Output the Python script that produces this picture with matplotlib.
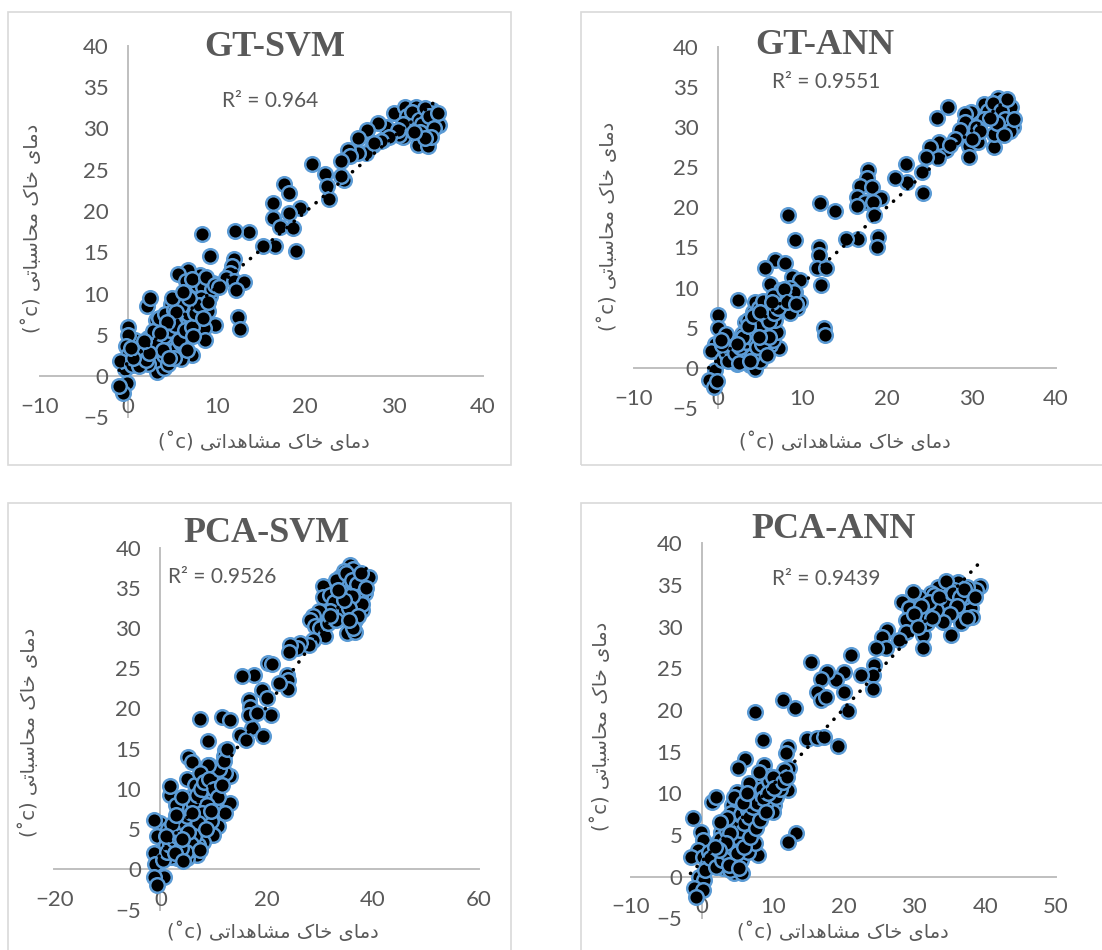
import matplotlib
matplotlib.use('Agg')
import matplotlib.pyplot as plt
from matplotlib.patches import Rectangle
import numpy as np

gt_svm_obs = [30.0, 31.2, 32.1, 32.7, 33.8, 34.3, 34.7, 35.1, 32.5, 33.0, 29.9, 31.0, 29.1, 28.2, 27.0,
              27.6, 26.9, 25.9, 25.9, 24.8, 25.0, 24.0, 24.4, 24.0, 20.8, 22.2, 22.4, 22.7, 19.4, 18.2,
              17.6, 18.2, 16.4, 16.4, 17.2, 18.6, 18.9, 16.6, 15.2, 13.7, 12.1, 8.3, 9.2, 11.9, 11.7,
              11.5, 11.1, 11.9, 13.1, 12.2, 12.4, 12.6, 9.6, 8.8, 8.1, 6.8, 5.6, 7.4, 6.1, 9.3,
              7.8, 9.0, 9.8, 8.6, 8.7, 7.1, 7.2, 6.0, 5.1, 4.8, 4.0, 4.8, 3.1, 2.3, 2.1,
              2.5, 3.1, 3.3, 4.0, 4.8, 1.6, 0.8, 0.0, 0.0, -0.2, 0.0, -0.3, -0.1, -0.6, -1.0,
              -0.9, 0.4, 2.0, 2.5, 3.0, 3.5, 3.8, 4.2, 4.5, 5.0, 5.5, 5.8, 6.2, 6.5, 3.2,
              4.0, 4.8, 5.5, 6.0, 2.8, 3.5, 4.2, 5.2, 6.8, 7.5, 7.0, 6.5, 1.5, 1.0, 2.2,
              4.5, 5.2, 7.8, 8.5, 9.5, 8.2, 6.0, 33.5, 34.8, 31.8, 30.6, 28.8]
gt_svm_pred = [31.8, 32.6, 30.2, 28.0, 27.9, 32.2, 31.0, 30.4, 32.6, 31.5, 29.4, 29.0, 30.2, 30.6, 29.8,
               28.0, 27.0, 28.8, 27.0, 27.4, 26.6, 26.1, 23.8, 24.2, 25.7, 24.5, 23.0, 21.5, 20.3, 19.7,
               23.2, 22.2, 20.9, 19.1, 18.0, 17.9, 15.2, 15.8, 15.8, 17.4, 17.6, 17.2, 14.5, 14.2, 13.3,
               12.5, 11.9, 11.5, 11.4, 10.4, 7.2, 5.7, 11.3, 11.9, 12.2, 12.8, 12.4, 10.1, 9.1, 9.7,
               8.3, 7.9, 6.2, 5.8, 4.4, 6.8, 2.6, 2.1, 3.6, 5.2, 6.8, 8.7, 6.8, 4.6, 8.5,
               9.5, 2.4, 0.5, 1.0, 3.6, 1.8, 4.4, 6.0, 5.0, 3.6, 2.6, 0.8, -0.8, -2.0, -1.2,
               1.8, 1.4, 3.5, 4.2, 4.8, 3.0, 5.5, 6.0, 4.0, 6.5, 7.0, 5.0, 6.0, 4.5, 2.0,
               2.5, 3.0, 3.5, 4.0, 5.5, 7.0, 7.5, 8.0, 7.5, 9.0, 10.5, 11.5, 2.5, 3.0, 1.5,
               1.5, 2.2, 11.0, 10.8, 10.5, 9.5, 8.5, 31.2, 31.8, 30.8, 29.2, 28.6]
# denser parts of the clouds
gt_svm_obs2 = [31.5, 32.0, 32.8, 33.2, 33.5, 34.0, 34.5, 35.0, 33.0, 31.0, 30.5, 29.5, 28.5, 27.8, 34.2,
               33.5, 32.3, 1.2, 2.0, 2.6, 3.4, 4.1, 4.7, 5.3, 3.0, 3.9, 4.6, 5.7, 6.4, 7.2,
               7.6, 8.0, 6.9, 5.4, 4.4, 3.6, 2.4, 1.8, 0.5, 0.3, 6.6, 7.3, 8.4, 9.0, 5.0,
               6.2, 7.2, 8.8, 9.8, 10.3]
gt_svm_pred2 = [31.5, 32.0, 31.0, 30.5, 32.5, 31.5, 30.0, 31.8, 29.5, 30.5, 29.8, 29.0, 28.5, 28.2, 29.0,
                28.8, 29.5, 1.2, 2.0, 3.0, 4.0, 4.8, 5.6, 6.2, 3.8, 3.2, 2.2, 4.4, 5.6, 6.0,
                7.6, 8.6, 9.4, 7.8, 6.6, 5.2, 2.8, 4.2, 2.2, 3.4, 3.2, 4.8, 7.0, 9.0, 9.5,
                10.2, 11.8, 12.0, 11.0, 10.8]

gt_ann_obs = [33.1, 33.9, 34.7, 34.9, 32.7, 32.7, 31.5, 29.9, 29.2, 29.2, 28.6, 29.7, 29.7, 30.5, 27.2,
              25.9, 27.0, 26.2, 25.1, 26.0, 24.6, 24.2, 24.3, 22.3, 22.4, 20.9, 17.8, 17.6, 16.8, 18.2,
              16.5, 17.4, 16.4, 19.3, 18.3, 18.5, 18.9, 18.8, 16.6, 15.1, 13.8, 12.1, 8.3, 9.1, 11.9,
              11.9, 11.7, 12.8, 12.2, 12.5, 12.7, 6.8, 5.6, 7.9, 8.7, 6.2, 7.5, 9.7, 9.1, 9.3,
              9.7, 8.5, 7.2, 6.0, 6.2, 7.2, 6.2, 4.6, 4.2, 4.4, 3.2, 2.4, 2.8, 4.0, 3.8,
              4.4, 3.0, 1.7, 0.9, 0.0, 0.0, 0.0, -0.3, -0.8, -0.3, -1.1, -0.5, -0.1, 0.5, 1.5,
              2.0, 2.5, 3.0, 3.5, 3.8, 4.2, 4.5, 5.0, 5.5, 5.8, 6.2, 3.2, 4.8, 5.5, 6.5,
              7.0, 6.8, 4.8, 5.3, 3.5, 2.8, 7.5, 8.0, 8.5, 9.0, 6.5, 1.0, 0.5, 2.2, 5.0,
              33.5, 31.0, 34.0, 30.8]
gt_ann_pred = [33.7, 33.3, 32.5, 30.0, 27.5, 29.2, 32.9, 31.9, 31.7, 30.6, 29.6, 27.6, 26.3, 29.0, 32.5,
               31.2, 27.2, 28.1, 27.5, 26.1, 26.3, 24.4, 21.8, 25.4, 23.2, 23.6, 24.6, 23.6, 22.7, 22.5,
               21.3, 20.7, 20.2, 21.2, 20.7, 19.0, 16.3, 15.0, 16.0, 16.0, 19.6, 20.5, 19.1, 15.9, 15.1,
               14.0, 12.4, 12.4, 10.3, 4.9, 4.1, 13.4, 12.4, 13.0, 11.3, 10.4, 9.7, 10.9, 9.5, 7.4,
               8.2, 6.8, 8.2, 7.2, 5.1, 2.4, 2.8, 4.9, 7.0, 8.2, 5.7, 8.5, 3.7, 2.6, 0.3,
               -0.1, 0.7, 1.4, 3.9, 6.6, 4.9, 2.4, 3.0, 2.1, -0.3, -1.5, -2.4, -1.7, 1.0, 2.5,
               3.5, 1.5, 2.5, 3.5, 4.5, 5.5, 3.2, 4.0, 5.0, 6.2, 7.0, 1.2, 1.8, 2.5, 3.5,
               4.5, 6.0, 7.5, 8.3, 6.0, 4.2, 8.0, 9.0, 10.0, 9.5, 9.0, 1.8, 2.8, 0.5, 0.8,
               31.8, 30.5, 30.8, 28.2]
gt_ann_obs2 = [32.0, 32.5, 33.5, 34.0, 34.5, 35.0, 33.0, 31.5, 30.5, 31.0, 33.8, 34.2, 32.2, 30.0, 28.0,
               27.5, 1.2, 2.0, 2.6, 3.3, 3.9, 4.4, 5.1, 5.6, 6.0, 6.6, 7.1, 4.0, 4.6, 5.2,
               6.0, 3.0, 3.6, 4.2, 5.0, 6.4, 7.8, 8.2, 9.2, 2.5, 3.8, 4.8, 5.8, 1.0, 0.4,
               2.2]
gt_ann_pred2 = [32.0, 33.0, 32.0, 31.0, 29.5, 31.0, 30.5, 31.0, 30.0, 29.5, 29.0, 33.5, 31.2, 28.5, 28.5,
                27.8, 0.8, 1.8, 2.6, 3.2, 3.8, 4.6, 5.4, 6.6, 5.8, 6.8, 7.4, 1.5, 2.6, 3.0,
                3.8, 3.8, 5.2, 6.4, 7.0, 8.2, 9.8, 8.2, 8.0, 0.6, 0.8, 3.8, 1.6, 4.2, 3.5,
                3.0]

pca_svm_obs = [35.7, 36.3, 39.2, 34.5, 33.8, 34.8, 36.3, 38.5, 36.7, 37.9, 36.7, 35.1, 36.7, 30.6, 30.6,
               31.9, 32.6, 34.2, 31.9, 29.8, 28.8, 28.2, 29.1, 30.1, 31.0, 31.6, 28.8, 27.9, 26.3, 25.7,
               24.4, 24.3, 23.8, 24.1, 24.1, 22.4, 20.3, 21.0, 19.1, 20.1, 20.8, 17.6, 15.3, 16.6, 16.9,
               16.6, 18.2, 17.2, 19.3, 15.0, 16.1, 7.5, 11.6, 13.1, 8.9, 12.2, 12.0, 11.6, 13.1, 12.2,
               9.2, 5.1, 5.9, 5.0, 7.8, 6.5, 9.9, 8.4, 13.1, 12.2, 9.9, 10.9, 9.9, 8.1, 6.8,
               5.0, 5.0, 3.1, 4.0, 4.0, 1.8, 1.8, 2.1, 3.4, -0.1, -1.3, -0.7, 0.6, -1.3, -1.0,
               0.6, -1.3, -0.7, 1.5, 1.0, 2.0, 2.5, 3.0, 3.5, 4.0, 4.5, 5.0, 5.5, 6.0, 6.5,
               7.0, 7.5, 8.0, 8.5, 9.0, 9.5, 10.0, 10.5, 11.0, 6.0, 7.0, 3.5, 2.0, 5.5, 4.5,
               8.0, 9.0, 12.0, 12.5, 1.5, 3.0, 6.5, 7.5, 37.0, 35.5, 33.0]
pca_svm_pred = [37.8, 37.3, 36.4, 37.1, 36.4, 35.6, 35.6, 34.4, 33.1, 32.3, 31.0, 29.4, 29.5, 35.2, 33.9,
                34.1, 33.3, 31.9, 32.1, 32.1, 31.5, 31.0, 30.2, 30.0, 29.0, 30.6, 28.5, 27.9, 28.1, 27.5,
                27.9, 27.0, 24.2, 23.6, 22.4, 23.2, 25.7, 25.5, 22.3, 21.3, 19.2, 24.2, 24.0, 21.1, 20.2,
                19.2, 19.4, 17.6, 16.6, 16.7, 16.1, 18.7, 18.9, 18.6, 15.9, 14.9, 14.1, 12.8, 11.6, 12.0,
                13.0, 14.0, 13.4, 11.2, 11.7, 9.5, 10.4, 9.0, 8.3, 7.0, 8.0, 5.4, 4.3, 3.4, 1.8,
                3.9, 1.4, 1.4, 6.1, 7.6, 9.3, 10.3, 5.5, 3.2, 5.8, 6.1, 4.1, 2.6, 2.0, 0.7,
                -0.9, -0.9, -1.9, 1.6, 3.0, 4.0, 2.5, 5.0, 6.5, 4.5, 3.0, 5.5, 7.0, 4.5, 6.0,
                8.0, 5.0, 6.5, 9.5, 7.5, 6.0, 9.0, 11.0, 12.5, 2.5, 3.0, 1.5, 1.5, 9.0, 8.0,
                11.5, 13.0, 13.5, 15.0, 5.0, 8.0, 10.5, 12.0, 34.8, 33.5, 36.0]
pca_svm_obs2 = [35.0, 36.0, 37.0, 37.5, 38.0, 36.0, 35.5, 34.5, 33.5, 37.2, 36.2, 38.8, 33.0, 32.0, 35.5,
                37.8, 0.5, 1.2, 1.8, 2.6, 3.2, 3.8, 4.4, 5.0, 5.6, 6.2, 6.8, 7.6, 8.2, 9.2,
                10.0, 10.8, 11.5, 8.8, 7.8, 7.0, 6.4, 5.8, 4.8, 3.8, 2.8, 9.6, 8.6, 7.4, 4.2,
                5.2, 6.0, 4.0, 2.2, 3.0, 4.0, 1.0]
pca_svm_pred2 = [36.8, 36.0, 35.5, 34.0, 33.0, 34.0, 32.5, 33.5, 34.8, 31.5, 30.0, 35.0, 31.0, 31.5, 31.0,
                 36.8, 1.2, 2.2, 3.0, 3.6, 4.2, 5.0, 5.8, 6.6, 7.6, 8.4, 9.2, 10.0, 10.8, 11.2,
                 10.0, 9.0, 10.5, 8.0, 7.0, 5.8, 4.2, 3.2, 2.2, 2.6, 2.0, 7.2, 5.0, 2.4, 1.0,
                 4.6, 7.0, 3.8, 5.6, 6.8, 9.0, 4.2]

pca_ann_obs = [39.2, 38.7, 36.1, 37.5, 35.6, 34.2, 33.3, 32.3, 30.7, 29.8, 28.3, 29.3, 29.8, 28.8, 28.8,
               27.9, 31.2, 31.2, 31.8, 31.6, 33.7, 35.2, 35.9, 36.8, 38.0, 38.2, 36.6, 34.9, 26.2, 25.5,
               26.0, 24.6, 24.3, 24.1, 24.1, 22.4, 21.0, 20.1, 18.9, 20.1, 20.7, 17.7, 16.8, 16.3, 16.8,
               17.5, 15.4, 14.9, 16.2, 17.2, 19.2, 11.5, 13.1, 7.5, 8.7, 12.1, 11.9, 12.3, 11.6, 12.1,
               8.8, 9.5, 9.6, 10.2, 10.0, 8.3, 6.7, 6.7, 6.6, 6.1, 5.1, 5.0, 4.3, 4.1, 6.9,
               7.9, 13.3, 12.1, 5.5, 6.0, 4.8, 4.6, 5.7, 3.2, 1.7, 2.2, 2.7, 1.5, 2.0, -1.3,
               -0.1, 0.1, -0.6, -1.6, 0.1, -0.4, 0.3, -1.1, 0.1, -0.8, 0.8, 1.0, 1.5, 2.0, 2.5,
               3.0, 3.5, 4.0, 4.5, 5.0, 5.5, 6.0, 6.5, 7.0, 7.5, 8.0, 8.5, 9.0, 9.5, 10.5,
               11.0, 3.0, 4.0, 5.5, 6.5, 7.5, 3.5, 4.5, 2.5, 8.0, 10.0, 34.5, 37.0, 32.8]
pca_ann_pred = [34.9, 34.4, 35.4, 34.8, 34.4, 34.4, 34.8, 34.0, 33.6, 34.2, 33.0, 32.2, 31.0, 30.8, 29.4,
                28.4, 29.0, 27.4, 30.4, 31.4, 30.8, 29.0, 31.4, 32.0, 32.2, 31.2, 30.4, 32.6, 29.6, 28.8,
                27.4, 27.4, 25.4, 24.2, 22.5, 24.2, 26.6, 24.6, 23.6, 22.2, 19.9, 24.5, 23.7, 22.2, 21.2,
                21.6, 25.7, 16.5, 16.6, 16.7, 15.7, 21.2, 20.2, 19.8, 16.4, 15.6, 14.8, 13.0, 12.8, 10.4,
                13.4, 12.1, 10.1, 8.6, 7.8, 11.2, 9.0, 7.6, 11.2, 14.1, 13.0, 10.2, 8.6, 7.6, 6.0,
                2.6, 5.2, 4.2, 5.2, 3.6, 3.6, 0.4, 0.4, 1.0, 2.0, 4.0, 5.4, 9.0, 9.6, 7.0,
                5.4, 4.4, 3.2, 2.4, 2.4, 0.0, -0.4, -1.4, -1.6, -2.4, 1.6, 3.0, 1.5, 2.5, 4.5,
                3.0, 5.5, 2.0, 4.5, 6.0, 7.5, 5.0, 8.0, 6.5, 9.5, 8.0, 10.5, 9.0, 11.5, 9.5,
                10.5, 1.0, 0.8, 2.0, 3.0, 4.0, 7.0, 9.5, 6.5, 12.5, 12.0, 33.0, 33.5, 33.8]
pca_ann_obs2 = [34.5, 35.5, 36.5, 37.0, 36.0, 35.0, 34.0, 33.0, 32.0, 31.0, 30.0, 30.5, 37.5, 38.5, 33.5,
                32.5, 0.5, 1.2, 2.0, 2.8, 3.5, 4.2, 4.8, 5.4, 6.0, 6.6, 7.2, 7.8, 8.6, 9.4,
                10.2, 11.4, 12.0, 5.0, 6.0, 6.8, 7.6, 8.2, 9.0, 4.0, 3.4, 2.4, 5.8, 6.4, 3.8,
                5.2, 1.8]
pca_ann_pred2 = [35.5, 34.0, 33.5, 34.5, 32.5, 31.5, 30.5, 32.0, 33.0, 32.5, 31.5, 30.0, 31.0, 33.5, 33.5,
                 31.0, 0.8, 2.2, 1.2, 2.0, 2.8, 3.6, 4.8, 5.6, 6.4, 7.2, 8.4, 8.8, 9.4, 10.0,
                 10.6, 11.4, 12.0, 2.8, 3.6, 4.8, 5.8, 6.8, 7.8, 5.2, 4.0, 3.2, 8.8, 10.0, 1.4,
                 1.0, 3.6]

titles = ['GT-SVM', 'GT-ANN', 'PCA-SVM', 'PCA-ANN']
r2_labels = ['R² = 0.964', 'R² = 0.9551', 'R² = 0.9526', 'R² = 0.9439']
xlims = [(-10, 40), (-10, 40), (-20, 60), (-10, 50)]
xsteps = [10, 10, 20, 10]

# ---- persian text: matplotlib has no shaping, so do it by hand ----
FORMS = {  # isolated, final, initial, medial
    'ا': ('\uFE8D', '\uFE8E', None, None),
    'د': ('\uFEA9', '\uFEAA', None, None),
    'م': ('\uFEE1', '\uFEE2', '\uFEE3', '\uFEE4'),
    'ی': ('\uFBFC', '\uFBFD', '\uFBFE', '\uFBFF'),
    'خ': ('\uFEA5', '\uFEA6', '\uFEA7', '\uFEA8'),
    'ک': ('\uFB8E', '\uFB8F', '\uFB90', '\uFB91'),
    'ش': ('\uFEB5', '\uFEB6', '\uFEB7', '\uFEB8'),
    'ه': ('\uFEE9', '\uFEEA', '\uFEEB', '\uFEEC'),
    'ت': ('\uFE95', '\uFE96', '\uFE97', '\uFE98'),
    'ح': ('\uFEA1', '\uFEA2', '\uFEA3', '\uFEA4'),
    'س': ('\uFEB1', '\uFEB2', '\uFEB3', '\uFEB4'),
    'ب': ('\uFE8F', '\uFE90', '\uFE91', '\uFE92'),
}

def shape_fa(s):
    out = []
    for i, ch in enumerate(s):
        if ch not in FORMS:
            out.append(ch)
            continue
        prv = s[i - 1] if i > 0 else ''
        nxt = s[i + 1] if i + 1 < len(s) else ''
        jp = prv in FORMS and FORMS[prv][2] is not None
        jn = nxt in FORMS and FORMS[ch][2] is not None
        f = FORMS[ch]
        if jp and jn:
            out.append(f[3])
        elif jp:
            out.append(f[1])
        elif jn:
            out.append(f[2])
        else:
            out.append(f[0])
    return ''.join(out)[::-1]

xlab = '(˚c) ' + shape_fa('دمای خاک مشاهداتی')
ylab = '(˚c) ' + shape_fa('دمای خاک محاسباتی')

W, H = 1102, 950
GRAY = '#595959'
AXC = '#BFBFBF'

def fx(x):
    return x / W

def fy(y):
    return 1 - y / H

fig = plt.figure(figsize=(W / 100, H / 100), dpi=100)
fig.patch.set_facecolor('white')

# pixel boxes of each plot area: left(x-min), right(x-max), top(y=40), bottom(y=-5)
boxes = [(39.5, 482.5, 45.7, 417.4), (633.5, 1056, 47, 407.8),
         (54.3, 479, 547.7, 909.5), (631, 1056, 543.3, 918.3)]
frames = [(8, 12, 511, 465), (581, 12, 1110, 465), (8, 503, 511, 960), (581, 503, 1110, 960)]
title_pos = [(275, 47), (825, 45), (267, 533), (834, 530)]
r2_pos = [(16, 33.3, 'center'), (12.8, 35.6, 'center'), (1.5, 36.4, 'left'), (17.5, 35.7, 'center')]
xlab_pos = [(264, 442), (845, 442), (273, 932), (843, 932)]
ylab_pos = [(32, 228), (608, 226), (29, 732), (601, 726)]

data = [(gt_svm_obs + gt_svm_obs2, gt_svm_pred + gt_svm_pred2),
        (gt_ann_obs + gt_ann_obs2, gt_ann_pred + gt_ann_pred2),
        (pca_svm_obs + pca_svm_obs2, pca_svm_pred + pca_svm_pred2),
        (pca_ann_obs + pca_ann_obs2, pca_ann_pred + pca_ann_pred2)]

for k in range(4):
    x0, y0, x1, y1 = frames[k]
    fig.patches.append(Rectangle((fx(x0), fy(y1)), fx(x1 - x0), (y1 - y0) / H,
                                 transform=fig.transFigure, fill=False,
                                 edgecolor='#D9D9D9', lw=1.2, zorder=0))
    l, r, t, b = boxes[k]
    ax = fig.add_axes([fx(l), fy(b), fx(r - l), (b - t) / H])
    ax.set_facecolor('none')
    obs = np.array(data[k][0])
    pred = np.array(data[k][1])
    ax.scatter(obs, pred, s=110, c='black', edgecolors='#5B9BD5', linewidths=1.8, zorder=3)
    # linear trendline like excel
    a, c0 = np.polyfit(obs, pred, 1)
    xx = np.array([obs.min(), obs.max()])
    ax.plot(xx, a * xx + c0, color='black', lw=2.6, ls=(0, (0.05, 2.6)),
            dash_capstyle='round', zorder=4)
    ax.set_xlim(*xlims[k])
    ax.set_ylim(-5, 40)
    ax.set_xticks(np.arange(xlims[k][0], xlims[k][1] + 1, xsteps[k]))
    ax.set_yticks(np.arange(-5, 41, 5))
    for s in ['top', 'right']:
        ax.spines[s].set_visible(False)
    ax.spines['left'].set_position(('data', 0))
    ax.spines['bottom'].set_position(('data', 0))
    for s in ['left', 'bottom']:
        ax.spines[s].set_color(AXC)
        ax.spines[s].set_linewidth(1.4)
        ax.spines[s].set_zorder(1)
    ax.tick_params(length=0, labelsize=16, labelcolor=GRAY)
    ax.tick_params(axis='x', pad=15)
    ax.tick_params(axis='y', pad=14)
    for lab in ax.get_xticklabels() + ax.get_yticklabels():
        lab.set_family('Lato')
    ax.text(r2_pos[k][0], r2_pos[k][1], r2_labels[k], ha=r2_pos[k][2], va='center',
            fontsize=15, color=GRAY, family='Lato')
    tx, ty = title_pos[k]
    fig.text(fx(tx), fy(ty), titles[k], ha='center', va='center', fontsize=26,
             fontweight='bold', color=GRAY, family='Liberation Serif')
    lx, ly = xlab_pos[k]
    fig.text(fx(lx), fy(ly), xlab, ha='center', va='center', fontsize=14, color=GRAY,
             family=['DejaVu Sans'])
    lx, ly = ylab_pos[k]
    fig.text(fx(lx), fy(ly), ylab, ha='center', va='center', fontsize=14, color=GRAY,
             rotation=90, family=['DejaVu Sans'])

fig.savefig('out.png', dpi=100, facecolor='white')
